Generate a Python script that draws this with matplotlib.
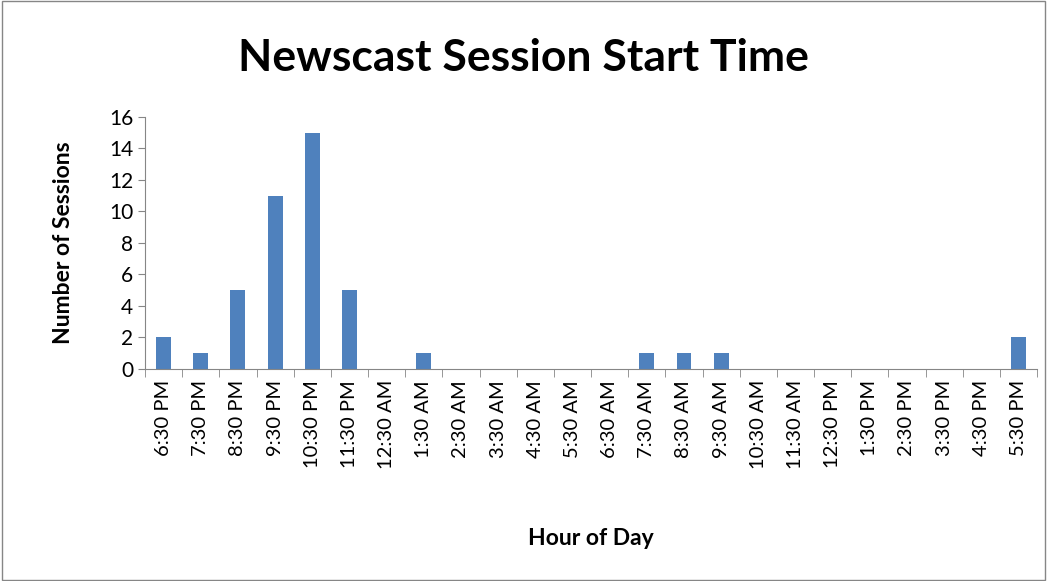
import matplotlib
matplotlib.use("Agg")
import matplotlib.pyplot as plt
import numpy as np

hours = ["6:30 PM", "7:30 PM", "8:30 PM", "9:30 PM", "10:30 PM", "11:30 PM",
         "12:30 AM", "1:30 AM", "2:30 AM", "3:30 AM", "4:30 AM", "5:30 AM",
         "6:30 AM", "7:30 AM", "8:30 AM", "9:30 AM", "10:30 AM", "11:30 AM",
         "12:30 PM", "1:30 PM", "2:30 PM", "3:30 PM", "4:30 PM", "5:30 PM"]
sessions = [2, 1, 5, 11, 15, 5, 0, 1, 0, 0, 0, 0,
            0, 1, 1, 1, 0, 0, 0, 0, 0, 0, 0, 2]

plt.rcParams["font.family"] = ["Lato", "DejaVu Sans"]

fig = plt.figure(figsize=(10.47, 5.81), dpi=100)
# outer chart border
fig.patches.append(plt.Rectangle((0.002, 0.002), 0.996, 0.996, transform=fig.transFigure,
                                 fill=False, edgecolor="#868686", lw=1))
ax = fig.add_axes([0.1385, 0.365, 0.852, 0.434])

x = np.arange(len(hours))
ax.bar(x, sessions, width=0.4, color="#4F81BD")

ax.set_xlim(-0.5, len(hours) - 0.5)
ax.set_ylim(0, 16)
ax.set_yticks(range(0, 17, 2))
ax.tick_params(axis="y", labelsize=15, length=5, color="#868686")

ax.set_xticks(x)
ax.set_xticklabels(hours, rotation=90, fontsize=14.5)
ax.tick_params(axis="x", length=0, pad=8)
ax.set_xticks(np.arange(-0.5, len(hours)), minor=True)
ax.tick_params(axis="x", which="minor", length=6, color="#868686")

for side in ["top", "right"]:
    ax.spines[side].set_visible(False)
for side in ["left", "bottom"]:
    ax.spines[side].set_color("#868686")

ax.set_ylabel("Number of Sessions", fontsize=16.5, fontweight="bold")
ax.yaxis.set_label_coords(-0.08, 0.5)
ax.set_xlabel("Hour of Day", fontsize=16.5, fontweight="bold")
ax.xaxis.set_label_coords(0.5, -0.63)
fig.text(0.5, 0.9, "Newscast Session Start Time", ha="center", va="center",
         fontsize=32, fontweight="bold")

fig.savefig("out.png", dpi=100)
